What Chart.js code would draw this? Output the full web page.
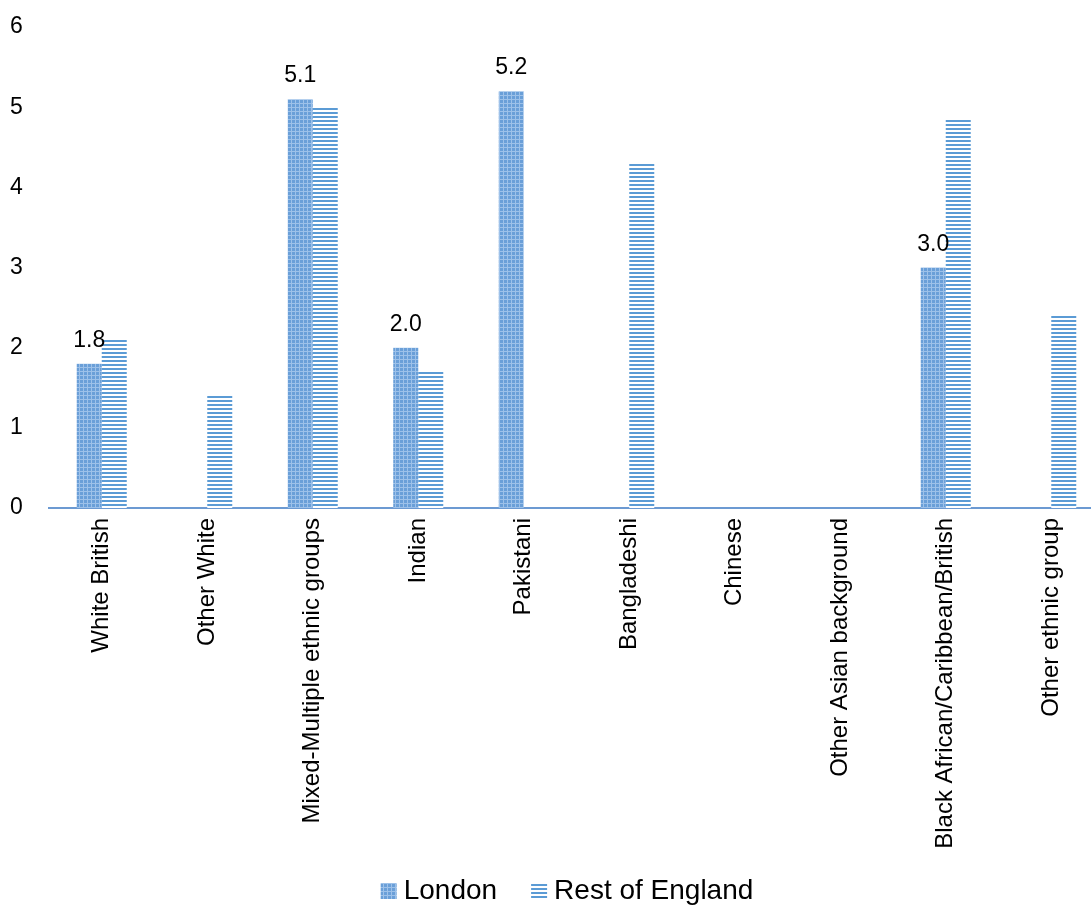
<!DOCTYPE html>
<html lang="en">
<head>
    <meta charset="UTF-8">
    <title>London vs Rest of England by ethnic group</title>
    <script src="https://cdn.jsdelivr.net/npm/chart.js"></script>
    <style>
        html, body { margin: 0; padding: 0; background: #fff; overflow: hidden; }
        #wrap { width: 1104px; height: 905px; }
    </style>
</head>
<body>
    <div id="wrap"><canvas id="ethnicChart" width="1104" height="905"></canvas></div>
    <script>
        var categories = ['White British', 'Other White', 'Mixed-Multiple ethnic groups', 'Indian', 'Pakistani',
            'Bangladeshi', 'Chinese', 'Other Asian background', 'Black African/Caribbean/British', 'Other ethnic group'];
        var london = [1.8, 0, 5.1, 2.0, 5.2, 0, 0, 0, 3.0, 0];
        var restOfEngland = [2.1, 1.4, 5.0, 1.7, 0, 4.3, 0, 0, 4.85, 2.4];
        var yTicks = [0, 1, 2, 3, 4, 5, 6];

        var FONT = '"Liberation Sans", Arial, sans-serif';

        // small grid pattern for London
        function gridPattern() {
            var c = document.createElement('canvas');
            c.width = 4; c.height = 4;
            var g = c.getContext('2d');
            g.fillStyle = '#6A9FD8';
            g.fillRect(0, 0, 4, 4);
            g.fillStyle = '#9DC1E9';
            g.fillRect(0, 3, 4, 1);
            g.fillRect(3, 0, 1, 4);
            return g.createPattern(c, 'repeat');
        }
        // horizontal stripes for Rest of England
        function stripePattern() {
            var c = document.createElement('canvas');
            c.width = 4; c.height = 4;
            var g = c.getContext('2d');
            g.fillStyle = '#ffffff';
            g.fillRect(0, 0, 4, 4);
            g.fillStyle = '#5B9BD5';
            g.fillRect(0, 0, 4, 2);
            return g.createPattern(c, 'repeat');
        }

        var valueLabels = {
            id: 'valueLabels',
            afterDatasetsDraw(chart) {
                var ctx = chart.ctx;
                var meta = chart.getDatasetMeta(0);
                ctx.save();
                ctx.font = '23px ' + FONT;
                ctx.fillStyle = '#000';
                ctx.textAlign = 'center';
                ctx.textBaseline = 'alphabetic';
                meta.data.forEach(function (bar, i) {
                    var v = london[i];
                    if (!v) return;
                    ctx.fillText(v.toFixed(1), bar.x, bar.y - 17);
                });
                ctx.restore();
            }
        };

        var bottomLegend = {
            id: 'bottomLegend',
            afterDraw(chart) {
                var ctx = chart.ctx;
                var sets = chart.data.datasets;
                ctx.save();
                ctx.font = '28px ' + FONT;
                ctx.textBaseline = 'alphabetic';
                ctx.fillStyle = '#000';
                var box = 16, gap = 7, itemGap = 34;
                var total = 0;
                sets.forEach(function (ds, i) {
                    total += box + gap + ctx.measureText(ds.label).width;
                    if (i < sets.length - 1) total += itemGap;
                });
                var x = 567 - total / 2;
                var baseY = 899;
                sets.forEach(function (ds) {
                    ctx.fillStyle = ds.backgroundColor;
                    ctx.fillRect(x, baseY - 16, box, box);
                    x += box + gap;
                    ctx.fillStyle = '#000';
                    ctx.fillText(ds.label, x, baseY);
                    x += ctx.measureText(ds.label).width + itemGap;
                });
                ctx.restore();
            }
        };

        const ctx = document.getElementById('ethnicChart').getContext('2d');
        const ethnicChart = new Chart(ctx, {
            type: 'bar',
            data: {
                labels: categories,
                datasets: [
                    {
                        label: 'London',
                        data: london,
                        backgroundColor: gridPattern(),
                        borderWidth: 0,
                        categoryPercentage: 0.474,
                        barPercentage: 1
                    },
                    {
                        label: 'Rest of England',
                        data: restOfEngland,
                        backgroundColor: stripePattern(),
                        borderWidth: 0,
                        categoryPercentage: 0.474,
                        barPercentage: 1
                    }
                ]
            },
            options: {
                responsive: false,
                animation: false,
                layout: { padding: { top: 27, left: 10, right: 0, bottom: 42 } },
                plugins: {
                    legend: { display: false },
                    tooltip: { enabled: false }
                },
                scales: {
                    x: {
                        grid: { display: false, drawTicks: false },
                        border: { display: true, color: '#6C9AD2', width: 2 },
                        ticks: {
                            color: '#000',
                            font: { family: FONT, size: 24 },
                            minRotation: 90,
                            maxRotation: 90,
                            padding: 10,
                            autoSkip: false
                        },
                        afterFit(scale) { scale.height = 905 - 42 - 508; }
                    },
                    y: {
                        min: yTicks[0],
                        max: yTicks[yTicks.length - 1],
                        grid: { display: false, drawTicks: false },
                        border: { display: false },
                        ticks: {
                            stepSize: 1,
                            color: '#000',
                            font: { family: FONT, size: 23 },
                            padding: 0,
                            crossAlign: 'far'
                        },
                        afterBuildTicks(scale) { scale.ticks = yTicks.map(v => ({ value: v })); },
                        afterFit(scale) { scale.width = 39; }
                    }
                }
            },
            plugins: [valueLabels, bottomLegend]
        });
    </script>
</body>
</html>
